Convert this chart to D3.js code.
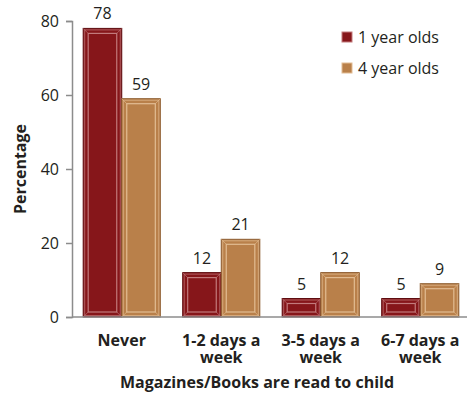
<!DOCTYPE html>
<html>
<head>
<meta charset="utf-8">
<script src="https://cdn.jsdelivr.net/npm/d3@7/dist/d3.min.js"></script>
<style>
  body { margin: 0; background: #fff; }
  svg { display: block; }
  text { font-family: "Open Sans", "Noto Sans", sans-serif; fill: #231f20; }
</style>
</head>
<body>
<svg id="chart" width="467" height="394"></svg>
<script>
// Reading frequency categories and the share of children in each
const categories = [["Never"], ["1-2 days a", "week"], ["3-5 days a", "week"], ["6-7 days a", "week"]];
const seriesNames = ["1 year olds", "4 year olds"];
const oneYear = [78, 12, 5, 5];
const fourYear = [59, 21, 12, 9];
const yTicks = [0, 20, 40, 60, 80];

const colors = ["#86161a", "#b9804a"];
const edgeLight = ["#c27a7c", "#e2bc93"];
const edgeDark = ["#5e0d10", "#8d5c30"];

const svg = d3.select("#chart");
const margin = { left: 72, right: -3, top: 21, bottom: 77 };
const W = 467, H = 394;

const x0 = d3.scaleBand().domain(d3.range(categories.length))
  .range([margin.left, W - margin.right]).paddingInner(0).paddingOuter(0);
const x1 = d3.scaleBand().domain([0, 1]).range([0, x0.bandwidth()]).paddingOuter(0.29).paddingInner(0);
const y = d3.scaleLinear().domain([0, 80]).range([H - margin.bottom, margin.top]);

// Y axis
const yAxis = svg.append("g").attr("transform", `translate(${margin.left},0)`)
  .call(d3.axisLeft(y).tickValues(yTicks).tickSize(6).tickPadding(7));
yAxis.select(".domain").attr("stroke", "#8c8c8c").attr("stroke-width", 1.5);
yAxis.selectAll(".tick line").attr("stroke", "#8c8c8c").attr("stroke-width", 1.5);
yAxis.selectAll(".tick text").attr("font-size", 16).style("font-family", "'Open Sans', sans-serif").attr("fill", "#231f20");

// Bars
const series = [oneYear, fourYear];
series.forEach((vals, s) => {
  const g = svg.append("g");
  vals.forEach((v, i) => {
    const bx = x0(i) + x1(s);
    const bw = x1.bandwidth();
    const by = y(v);
    const bh = y(0) - by;
    const inset = Math.min(5, bh / 2 - 1);
    g.append("rect").attr("x", bx).attr("y", by).attr("width", bw).attr("height", bh)
      .attr("fill", colors[s]).attr("stroke", edgeDark[s]).attr("stroke-width", 1);
    // bevel highlights
    g.append("rect").attr("x", bx + 1.5).attr("y", by + 1.5).attr("width", bw - 3).attr("height", Math.max(0, bh - 3))
      .attr("fill", "none").attr("stroke", edgeLight[s]).attr("stroke-width", 1).attr("opacity", 0.7);
    g.append("rect").attr("x", bx + inset).attr("y", by + inset).attr("width", bw - 2 * inset).attr("height", Math.max(0, bh - 2 * inset))
      .attr("fill", colors[s]).attr("stroke", edgeLight[s]).attr("stroke-width", 1.2);
    // corner miters
    const corners = [[bx, by, bx + inset, by + inset], [bx + bw, by, bx + bw - inset, by + inset],
                     [bx, by + bh, bx + inset, by + bh - inset], [bx + bw, by + bh, bx + bw - inset, by + bh - inset]];
    corners.forEach(c => g.append("line").attr("x1", c[0]).attr("y1", c[1]).attr("x2", c[2]).attr("y2", c[3])
      .attr("stroke", edgeLight[s]).attr("stroke-width", 0.8).attr("opacity", 0.8));
    svg.append("text").attr("x", bx + bw / 2).attr("y", by - 9).attr("text-anchor", "middle")
      .attr("font-size", 16).text(v);
  });
});

// X baseline
svg.append("line").attr("x1", margin.left).attr("x2", W).attr("y1", y(0)).attr("y2", y(0))
  .attr("stroke", "#8c8c8c").attr("stroke-width", 1.5);

// Category labels
categories.forEach((lines, i) => {
  const cx = x0(i) + x0.bandwidth() / 2;
  lines.forEach((l, k) => svg.append("text").attr("x", cx).attr("y", 346 + k * 17)
    .attr("text-anchor", "middle").attr("font-size", 16).attr("font-weight", "bold").text(l));
});

// Axis titles
svg.append("text").attr("x", 257).attr("y", 388).attr("text-anchor", "middle")
  .attr("font-size", 16).attr("font-weight", "bold").text("Magazines/Books are read to child");
svg.append("text").attr("transform", `translate(26,${y(40)}) rotate(-90)`).attr("text-anchor", "middle")
  .attr("font-size", 16).attr("font-weight", "bold").text("Percentage");

// Legend
seriesNames.forEach((n, s) => {
  const ly = 37 + s * 31;
  svg.append("rect").attr("x", 342).attr("y", ly - 5).attr("width", 10).attr("height", 10)
    .attr("fill", colors[s]).attr("stroke", edgeLight[s]).attr("stroke-width", 1);
  svg.append("text").attr("x", 358).attr("y", ly + 6).attr("font-size", 16).text(n);
});
</script>
</body>
</html>
